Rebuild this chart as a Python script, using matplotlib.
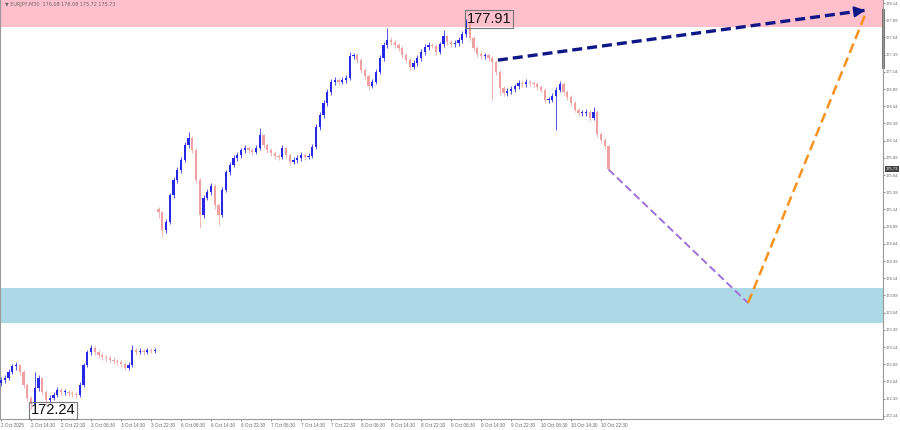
import numpy as np
import matplotlib.pyplot as plt
from matplotlib.transforms import blended_transform_factory

# hourly bars, EURJPY (2 Oct 06:30 -> 10 Oct 22:30, weekend gap at bar 42)
closes = [172.66, 172.69, 172.78, 172.86, 172.88, 172.78, 172.59, 172.40, 172.31, 172.54,
          172.69, 172.49, 172.37, 172.40, 172.44, 172.52, 172.49, 172.49, 172.47, 172.46,
          172.44, 172.59, 172.88, 173.07, 173.13, 173.07, 173.02, 172.99, 172.98, 172.95,
          172.94, 172.92, 172.89, 172.84, 172.88, 173.10, 173.07, 173.08, 173.07, 173.10,
          173.08, 173.10,
          175.10, 174.84, 174.96, 175.35, 175.57, 175.71, 175.86, 176.08, 176.18, 176.00,
          175.57, 175.06, 175.31, 175.39, 175.48, 175.20, 175.06, 175.42, 175.68, 175.79,
          175.89, 175.93, 176.00, 176.03, 176.00, 175.97, 176.03, 176.22, 176.08, 176.00,
          175.96, 175.92, 175.90, 176.03, 175.93, 175.83, 175.86, 175.89, 175.93, 175.90,
          175.92, 176.05, 176.34, 176.51, 176.69, 176.85, 176.99, 177.02, 176.99, 177.02,
          177.05, 177.37, 177.38, 177.31, 177.17, 177.08, 176.93, 176.99, 177.14, 177.34,
          177.53, 177.60, 177.57, 177.53, 177.49, 177.38, 177.31, 177.21, 177.27, 177.34,
          177.43, 177.50, 177.53, 177.52, 177.43, 177.54, 177.66, 177.57, 177.54, 177.56,
          177.60, 177.69, 177.86, 177.63, 177.49, 177.40, 177.37, 177.38, 177.34, 177.28,
          177.14, 176.90, 176.83, 176.86, 176.89, 176.93, 176.98, 176.96, 176.99, 176.98,
          176.96, 176.92, 176.88, 176.73, 176.73, 176.79, 176.88, 176.96, 176.85, 176.77,
          176.69, 176.59, 176.54, 176.54, 176.56, 176.47, 176.56, 176.24, 176.15, 176.06,
          175.73]
highs = [172.70, 172.73, 172.82, 172.90, 172.92, 172.90, 172.80, 172.62, 172.43, 172.78,
         172.74, 172.71, 172.52, 172.45, 172.48, 172.56, 172.55, 172.53, 172.52, 172.50,
         172.49, 172.63, 172.91, 173.10, 173.17, 173.15, 173.10, 173.06, 173.03, 173.01,
         172.99, 172.97, 172.95, 172.92, 172.92, 173.17, 173.13, 173.12, 173.11, 173.13,
         173.12, 173.13,
         175.18, 175.12, 175.00, 175.38, 175.61, 175.75, 175.90, 176.12, 176.27, 176.21,
         176.03, 175.60, 175.35, 175.43, 175.52, 175.51, 175.24, 175.46, 175.72, 175.83,
         175.93, 175.97, 176.04, 176.07, 176.06, 176.03, 176.07, 176.32, 176.24, 176.11,
         176.03, 175.99, 175.95, 176.07, 176.05, 175.96, 175.90, 175.93, 175.97, 175.96,
         175.96, 176.09, 176.38, 176.55, 176.73, 176.89, 177.03, 177.06, 177.05, 177.06,
         177.09, 177.43, 177.42, 177.41, 177.34, 177.20, 177.11, 177.03, 177.18, 177.38,
         177.57, 177.78, 177.64, 177.60, 177.56, 177.52, 177.41, 177.34, 177.31, 177.38,
         177.47, 177.54, 177.57, 177.56, 177.55, 177.58, 177.75, 177.68, 177.60, 177.60,
         177.64, 177.73, 177.91, 177.88, 177.66, 177.52, 177.44, 177.42, 177.41, 177.37,
         177.31, 177.17, 176.93, 176.90, 176.93, 176.97, 177.02, 177.01, 177.03, 177.02,
         177.01, 176.99, 176.95, 176.91, 176.77, 176.83, 176.92, 177.00, 176.99, 176.88,
         176.80, 176.72, 176.62, 176.58, 176.60, 176.59, 176.63, 176.59, 176.27, 176.18,
         176.08]
lows = [172.58, 172.62, 172.66, 172.75, 172.80, 172.74, 172.55, 172.36, 172.24, 172.28,
        172.50, 172.45, 172.30, 172.33, 172.37, 172.41, 172.45, 172.45, 172.43, 172.42,
        172.40, 172.41, 172.56, 172.85, 173.03, 173.03, 172.98, 172.95, 172.94, 172.91,
        172.90, 172.88, 172.85, 172.80, 172.81, 172.85, 173.03, 173.04, 173.03, 173.04,
        173.05, 173.06,
        175.02, 174.74, 174.80, 174.93, 175.31, 175.53, 175.67, 175.83, 176.04, 175.96,
        175.52, 174.87, 175.02, 175.27, 175.35, 175.15, 174.91, 175.03, 175.39, 175.64,
        175.75, 175.85, 175.89, 175.96, 175.96, 175.93, 175.94, 176.00, 176.04, 175.96,
        175.92, 175.88, 175.86, 175.87, 175.89, 175.79, 175.80, 175.82, 175.85, 175.86,
        175.87, 175.89, 176.02, 176.30, 176.47, 176.65, 176.81, 176.95, 176.95, 176.96,
        176.98, 177.02, 177.33, 177.27, 177.13, 177.04, 176.88, 176.90, 176.96, 177.11,
        177.30, 177.49, 177.53, 177.49, 177.45, 177.34, 177.27, 177.17, 177.18, 177.23,
        177.30, 177.39, 177.46, 177.48, 177.39, 177.40, 177.50, 177.53, 177.50, 177.50,
        177.52, 177.56, 177.65, 177.59, 177.45, 177.36, 177.33, 177.33, 177.30, 176.73,
        177.10, 176.80, 176.79, 176.79, 176.82, 176.85, 176.89, 176.92, 176.92, 176.94,
        176.92, 176.88, 176.84, 176.69, 176.69, 176.70, 176.29, 176.84, 176.81, 176.73,
        176.65, 176.55, 176.50, 176.50, 176.50, 176.43, 176.44, 176.20, 176.11, 176.02,
        175.72]
first_open = 172.62
gap_bar = 42
gap_open = 175.14

date_labels = ['2 Oct 2025', '2 Oct 14:30', '2 Oct 22:30', '3 Oct 06:30', '3 Oct 14:30',
               '3 Oct 22:30', '6 Oct 06:30', '6 Oct 14:30', '6 Oct 22:30', '7 Oct 06:30',
               '7 Oct 14:30', '7 Oct 22:30', '8 Oct 06:30', '8 Oct 14:30', '8 Oct 22:30',
               '9 Oct 06:30', '9 Oct 14:30', '9 Oct 22:30', '10 Oct 06:30', '10 Oct 14:30',
               '10 Oct 22:30']
price_ticks = [172.14, 172.39, 172.64, 172.89, 173.14, 173.39, 173.64, 173.89, 174.14,
               174.39, 174.64, 174.89, 175.14, 175.39, 175.64, 175.89, 176.14, 176.39,
               176.64, 176.89, 177.14, 177.39, 177.64, 177.89, 178.14]

resistance_zone = (177.79, 178.20)
support_zone = (173.49, 174.00)
high_label = (124.5, 177.91, '177.91')
low_label = (8.3, 172.22, '172.24')
last_price = 175.73
header = '\u25bc EURJPY,M30  176.08 176.08 175.72 175.73'

# forecast paths (x in hours from first bar)
arrow_x = [132.8, 231.5]
arrow_y = [177.31, 178.04]
down_x = [162.3, 199.5]
down_y = [175.72, 173.78]
up_x = [199.5, 230.9]
up_y = [173.78, 177.99]

opens = [first_open] + closes[:-1]
opens[gap_bar] = gap_open
x = np.arange(len(closes)) + 0.3

fig = plt.figure(figsize=(9, 4.3), dpi=100)
ax = fig.add_axes([0, 11 / 430, 883 / 900, 419 / 430])
ax.set_xlim(0, 235.5)
ax.set_ylim(172.094, 178.184)

ax.axhspan(*resistance_zone, color='#ffc0cb', lw=0, zorder=0)
ax.axhspan(*support_zone, color='#add8e6', lw=0, zorder=0)

up_col, dn_col = '#2727e8', '#f0a0a0'
for xi, o, h, l, c in zip(x, opens, highs, lows, closes):
    col = up_col if c >= o else dn_col
    ax.vlines(xi, l, h, color=col, lw=0.7, alpha=0.8, zorder=2)
    body = max(abs(c - o), 0.012)
    ax.bar(xi, body, bottom=min(o, c), width=0.6, color=col, lw=0, zorder=3)

ax.plot(arrow_x, arrow_y, color='#0f1687', lw=2.4, dashes=(3, 1.5), zorder=4)
ax.annotate('', xy=(arrow_x[1], arrow_y[1]),
            xytext=(arrow_x[1] - 4, arrow_y[1] - 0.03),
            arrowprops=dict(arrowstyle='-|>', color='#0f1687', lw=1.5, mutation_scale=16),
            zorder=5)
ax.plot(down_x, down_y, color='#a070d8', lw=1.4, dashes=(4, 2), zorder=4)
ax.plot(up_x, up_y, color='#f7921e', lw=1.8, dashes=(4, 2), zorder=4)

for lx, ly, txt in [high_label, low_label]:
    ax.text(lx, ly, txt, fontsize=10.5, family='Liberation Sans', color='#111111',
            ha='left', va='center', zorder=6,
            bbox=dict(boxstyle='square,pad=0.12', fc='none', ec='#777777', lw=0.8))

ax.text(0.006, 0.995, header, transform=ax.transAxes, fontsize=3.5, color='#666666',
        ha='left', va='top')

ax.yaxis.tick_right()
ax.set_yticks(price_ticks)
ax.set_yticklabels([f'{p:.2f}' for p in price_ticks], family='Liberation Sans')
ax.tick_params(axis='y', length=1.5, width=0.5, pad=0.8, labelsize=3, colors='#666666')

tick_hours = [0.27 + 8 * k for k in range(len(date_labels))]
ax.set_xticks(tick_hours)
ax.set_xticklabels(date_labels, ha='left', family='Liberation Sans')
ax.tick_params(axis='x', length=1.5, width=0.5, pad=1.5, labelsize=3.3, colors='#666666')

for side in ['left', 'bottom', 'right']:
    ax.spines[side].set_color('#999999')
    ax.spines[side].set_linewidth(0.8)
ax.spines['top'].set_visible(False)

tr = blended_transform_factory(ax.transAxes, ax.transData)
ax.plot([1, 1], [177.21, 178.04], transform=tr, color='#666666', lw=2, clip_on=False)
ax.text(1.003, last_price, f'{last_price:.2f}', transform=tr, fontsize=3,
        family='Liberation Sans', color='white', ha='left', va='center', zorder=7,
        bbox=dict(boxstyle='square,pad=0.2', fc='#444444', ec='none'))

fig.savefig('out.png', dpi=100)
